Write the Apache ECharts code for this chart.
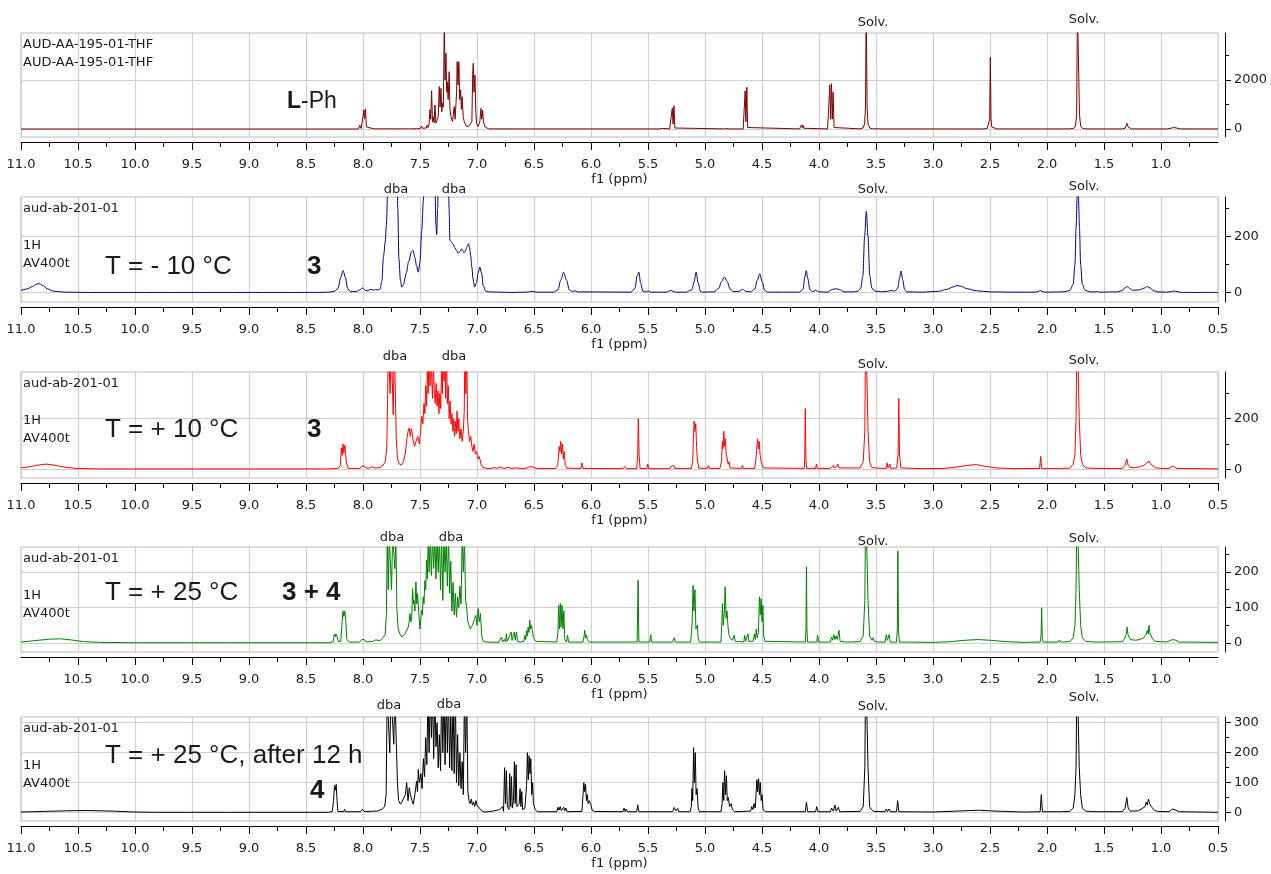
<!DOCTYPE html>
<html><head><meta charset="utf-8">
<script src="https://cdn.jsdelivr.net/npm/echarts@6/dist/echarts.min.js"></script>
<style>html,body{margin:0;padding:0;background:#fff}#c{width:1271px;height:874px}</style>
</head><body><div id="c"></div>
<script>
// ---------------- DATA ----------------
// x tick labels (ppm)
const xTicksFull = [11.0,10.5,10.0,9.5,9.0,8.5,8.0,7.5,7.0,6.5,6.0,5.5,5.0,4.5,4.0,3.5,3.0,2.5,2.0,1.5,1.0,0.5];
const xTicksNoRight = [11.0,10.5,10.0,9.5,9.0,8.5,8.0,7.5,7.0,6.5,6.0,5.5,5.0,4.5,4.0,3.5,3.0,2.5,2.0,1.5,1.0];
const xTicksInner = [10.5,10.0,9.5,9.0,8.5,8.0,7.5,7.0,6.5,6.0,5.5,5.0,4.5,4.0,3.5,3.0,2.5,2.0,1.5,1.0];

// y tick labels per panel
const yMajor1 = [0, 2000], yMinor1 = [1000, 3000];
const yMajor2 = [0, 200], yMinor2 = [100, 300];
const yMajor3 = [0, 200], yMinor3 = [100, 300];
const yMajor4 = [0, 100, 200], yMinor4 = [50, 150, 250];
const yMajor5 = [0, 100, 200, 300], yMinor5 = [50, 150, 250];
const yExtent = [[-327, 3918], [-33, 340], [-35, 385], [-25, 270], [-28, 319]];

// panel texts
const header1 = ['AUD-AA-195-01-THF', 'AUD-AA-195-01-THF'];
const headerN = ['aud-ab-201-01', '1H', 'AV400t'];
const tempLabels = ['', 'T = - 10 °C', 'T = + 10 °C', 'T = + 25 °C', 'T = + 25 °C, after 12 h'];
const compoundLabels = ['L-Ph', '3', '3', '3 + 4', '4'];
const notes = [
  [['Solv.', 3.526], ['Solv.', 1.675]],
  [['dba', 7.71], ['dba', 7.202], ['Solv.', 3.526], ['Solv.', 1.675]],
  [['dba', 7.719], ['dba', 7.202], ['Solv.', 3.526], ['Solv.', 1.675]],
  [['dba', 7.746], ['dba', 7.228], ['Solv.', 3.526], ['Solv.', 1.675]],
  [['dba', 7.772], ['dba', 7.246], ['Solv.', 3.526], ['Solv.', 1.675]]
];

// spectra: [ppm, intensity]
const specLPh = [[11.0,0],[8.06,0],[8.04,5],[8.033,20],[8.028,150],[8.022,110],[8.016,20],[8.0,40],[7.992,780],[7.986,420],[7.978,820],[7.97,80],[7.96,15],[7.9,5],[7.6,5],[7.52,10],[7.495,30],[7.486,120],[7.478,30],[7.445,40],[7.437,160],[7.43,60],[7.42,200],[7.413,780],[7.406,400],[7.398,1560],[7.391,300],[7.384,500],[7.376,250],[7.369,980],[7.36,250],[7.349,370],[7.34,500],[7.331,1730],[7.324,900],[7.316,1660],[7.309,700],[7.302,1050],[7.295,900],[7.287,4500],[7.28,2000],[7.272,3090],[7.266,1500],[7.261,1930],[7.253,1200],[7.244,2340],[7.237,800],[7.229,500],[7.215,300],[7.2,910],[7.192,400],[7.185,370],[7.179,1500],[7.174,2750],[7.166,1800],[7.159,2750],[7.152,1200],[7.144,1590],[7.137,800],[7.13,1320],[7.121,500],[7.112,300],[7.095,120],[7.077,95],[7.06,120],[7.045,300],[7.038,2200],[7.033,2680],[7.026,1500],[7.018,2200],[7.011,800],[7.004,230],[6.99,100],[6.975,300],[6.966,840],[6.958,400],[6.951,775],[6.943,300],[6.931,95],[6.92,20],[6.9,5],[6.5,3],[5.4,3],[5.375,25],[5.365,3],[5.31,3],[5.295,20],[5.287,850],[5.28,200],[5.272,950],[5.264,40],[5.25,5],[4.83,3],[4.815,60],[4.808,20],[4.8,70],[4.79,3],[4.665,3],[4.655,40],[4.648,1550],[4.641,300],[4.633,1700],[4.626,60],[4.615,3],[4.17,3],[4.158,40],[4.153,170],[4.147,60],[4.14,150],[4.133,30],[4.12,3],[3.925,3],[3.912,60],[3.905,1800],[3.898,400],[3.89,1850],[3.883,400],[3.876,1500],[3.868,60],[3.855,3],[3.64,5],[3.615,40],[3.6,200],[3.592,900],[3.586,5000],[3.578,900],[3.57,200],[3.555,40],[3.53,10],[3.45,3],[3.443,30],[3.436,3],[2.56,2],[2.525,20],[2.51,80],[2.503,400],[2.497,2930],[2.491,400],[2.484,80],[2.47,20],[2.44,3],[2.05,3],[2.043,30],[2.036,3],[1.865,3],[1.858,25],[1.85,3],[1.8,5],[1.765,30],[1.75,120],[1.74,600],[1.733,5000],[1.722,5000],[1.715,600],[1.705,120],[1.69,30],[1.66,5],[1.605,3],[1.598,30],[1.59,3],[1.34,3],[1.315,30],[1.305,90],[1.298,230],[1.29,90],[1.28,30],[1.26,3],[0.95,3],[0.91,35],[0.885,60],[0.86,35],[0.83,5],[0.5,2]];

const specM10 = [[11.0,8],[10.95,13],[10.9,22],[10.86,31],[10.84,32],[10.81,26],[10.77,14],[10.72,6],[10.62,2],[10.4,1],[8.4,1],[8.3,2],[8.25,5],[8.22,15],[8.195,55],[8.175,79],[8.155,55],[8.135,15],[8.11,4],[8.06,4],[8.03,10],[8.005,17],[7.98,8],[7.955,7],[7.93,12],[7.91,9],[7.89,11],[7.865,10],[7.85,13],[7.835,40],[7.82,130],[7.805,180],[7.795,240],[7.78,420],[7.765,600],[7.735,600],[7.705,600],[7.695,300],[7.685,120],[7.672,45],[7.66,20],[7.645,30],[7.62,70],[7.6,110],[7.575,145],[7.56,150],[7.545,125],[7.53,95],[7.515,73],[7.5,110],[7.485,220],[7.47,330],[7.455,600],[7.38,600],[7.37,400],[7.36,240],[7.354,206],[7.345,300],[7.335,600],[7.255,600],[7.245,300],[7.238,186],[7.225,180],[7.209,172],[7.195,160],[7.179,150],[7.165,140],[7.156,144],[7.145,148],[7.135,156],[7.125,150],[7.115,142],[7.1,150],[7.09,162],[7.074,174],[7.065,160],[7.056,133],[7.045,90],[7.035,50],[7.021,20],[7.005,35],[6.99,70],[6.975,91],[6.96,70],[6.945,25],[6.925,6],[6.9,3],[6.7,1],[6.56,2],[6.52,5],[6.48,2],[6.33,2],[6.29,10],[6.265,45],[6.24,73],[6.215,45],[6.19,10],[6.16,4],[6.14,7],[6.12,3],[5.65,2],[5.615,15],[5.595,60],[5.58,73],[5.565,35],[5.545,5],[5.515,3],[5.5,7],[5.48,2],[5.34,2],[5.3,8],[5.26,2],[5.16,2],[5.134,8],[5.115,10],[5.095,40],[5.078,73],[5.06,35],[5.04,5],[5.02,2],[4.92,3],[4.88,15],[4.855,40],[4.83,56],[4.805,40],[4.78,12],[4.75,4],[4.7,5],[4.67,12],[4.64,5],[4.6,3],[4.565,12],[4.54,45],[4.52,67],[4.5,40],[4.475,8],[4.45,2],[4.17,2],[4.14,12],[4.125,55],[4.112,79],[4.098,50],[4.08,10],[4.055,4],[4.03,9],[4.0,3],[3.93,2],[3.88,12],[3.85,14],[3.82,11],[3.78,3],[3.7,3],[3.66,5],[3.635,15],[3.615,60],[3.6,200],[3.585,289],[3.57,200],[3.555,60],[3.535,15],[3.51,6],[3.45,3],[3.4,5],[3.36,8],[3.335,5],[3.31,15],[3.295,50],[3.28,77],[3.265,45],[3.25,12],[3.23,3],[3.1,2],[2.95,5],[2.88,12],[2.82,21],[2.79,26],[2.75,22],[2.7,14],[2.62,7],[2.5,3],[2.3,2],[2.1,2],[2.075,5],[2.06,8],[2.045,5],[2.02,2],[1.85,3],[1.8,8],[1.77,30],[1.755,100],[1.745,230],[1.735,345],[1.725,345],[1.715,230],[1.705,100],[1.69,30],[1.665,8],[1.62,3],[1.57,3],[1.556,4],[1.54,2],[1.38,3],[1.34,8],[1.315,17],[1.295,22],[1.275,15],[1.25,9],[1.22,9],[1.18,11],[1.15,16],[1.12,22],[1.095,17],[1.07,8],[1.03,3],[0.95,2],[0.91,4],[0.885,6],[0.86,4],[0.82,1],[0.5,1]];

const specP10 = [[11.0,5],[10.92,10],[10.85,16],[10.78,20],[10.72,17],[10.63,9],[10.52,3],[10.3,1],[8.3,1],[8.22,3],[8.198,15],[8.19,85],[8.182,55],[8.175,100],[8.168,65],[8.16,95],[8.152,100],[8.145,25],[8.13,3],[8.03,3],[8.01,10],[8.0,16],[7.99,14],[7.975,5],[7.945,4],[7.925,10],[7.915,8],[7.905,6],[7.89,11],[7.875,5],[7.85,7],[7.825,15],[7.805,30],[7.792,80],[7.785,250],[7.778,500],[7.77,500],[7.762,300],[7.752,500],[7.745,500],[7.735,216],[7.725,500],[7.715,500],[7.708,120],[7.698,45],[7.685,22],[7.665,16],[7.645,30],[7.63,60],[7.615,120],[7.605,150],[7.595,163],[7.585,130],[7.575,160],[7.56,115],[7.548,90],[7.535,110],[7.52,130],[7.505,100],[7.495,150],[7.485,210],[7.475,180],[7.465,260],[7.457,220],[7.45,330],[7.442,250],[7.435,420],[7.428,300],[7.42,450],[7.412,330],[7.405,500],[7.397,360],[7.39,280],[7.382,420],[7.374,300],[7.366,260],[7.358,340],[7.35,250],[7.342,310],[7.334,220],[7.326,300],[7.318,240],[7.31,420],[7.303,300],[7.296,500],[7.289,350],[7.282,500],[7.275,280],[7.268,500],[7.26,260],[7.252,330],[7.244,200],[7.236,270],[7.228,180],[7.22,220],[7.212,150],[7.205,200],[7.197,130],[7.19,190],[7.182,140],[7.175,230],[7.167,150],[7.16,200],[7.15,120],[7.14,160],[7.13,110],[7.12,150],[7.112,230],[7.105,500],[7.098,300],[7.09,500],[7.083,200],[7.075,150],[7.065,110],[7.055,130],[7.045,90],[7.035,70],[7.025,100],[7.015,60],[7.003,70],[6.99,40],[6.98,50],[6.965,20],[6.95,8],[6.92,3],[6.87,3],[6.85,7],[6.83,3],[6.79,9],[6.77,3],[6.72,7],[6.7,3],[6.66,5],[6.6,2],[6.56,5],[6.54,9],[6.52,10],[6.5,6],[6.47,2],[6.31,3],[6.292,15],[6.285,50],[6.279,90],[6.272,70],[6.265,110],[6.258,60],[6.25,100],[6.243,40],[6.235,70],[6.226,15],[6.21,4],[6.09,3],[6.08,25],[6.07,3],[5.72,2],[5.705,10],[5.69,2],[5.6,2],[5.59,60],[5.585,200],[5.578,60],[5.57,3],[5.51,2],[5.502,20],[5.494,2],[5.31,2],[5.3,10],[5.285,3],[5.275,15],[5.265,3],[5.12,3],[5.108,30],[5.102,120],[5.095,190],[5.088,150],[5.081,180],[5.074,90],[5.067,40],[5.055,4],[4.98,3],[4.97,15],[4.96,3],[4.87,3],[4.855,30],[4.848,110],[4.842,80],[4.835,150],[4.828,90],[4.821,120],[4.814,60],[4.805,40],[4.797,20],[4.79,30],[4.78,5],[4.68,3],[4.672,15],[4.664,3],[4.63,3],[4.62,10],[4.61,3],[4.565,3],[4.553,40],[4.545,90],[4.538,120],[4.531,80],[4.524,110],[4.517,60],[4.508,30],[4.5,35],[4.49,5],[4.13,3],[4.125,40],[4.12,240],[4.115,40],[4.108,3],[4.03,3],[4.022,20],[4.014,3],[3.92,3],[3.91,8],[3.9,3],[3.875,15],[3.865,5],[3.845,10],[3.835,20],[3.825,5],[3.64,5],[3.612,30],[3.598,150],[3.59,600],[3.578,600],[3.57,150],[3.556,30],[3.54,8],[3.525,10],[3.515,5],[3.41,3],[3.402,25],[3.394,5],[3.378,20],[3.37,3],[3.318,5],[3.306,60],[3.3,280],[3.294,60],[3.282,5],[3.1,2],[2.9,3],[2.8,8],[2.7,15],[2.62,18],[2.55,12],[2.45,5],[2.3,2],[2.065,3],[2.055,50],[2.047,3],[1.9,3],[1.89,8],[1.88,3],[1.8,4],[1.77,20],[1.755,60],[1.745,200],[1.737,600],[1.725,600],[1.717,200],[1.705,60],[1.69,20],[1.66,5],[1.57,3],[1.56,6],[1.55,3],[1.34,3],[1.315,15],[1.3,40],[1.288,15],[1.27,6],[1.22,7],[1.18,10],[1.15,15],[1.13,22],[1.115,25],[1.105,32],[1.095,22],[1.08,15],[1.05,6],[1.0,3],[0.93,3],[0.9,12],[0.88,8],[0.86,3],[0.5,1]];

const specP25 = [[11.0,3],[10.88,7],[10.75,11],[10.66,12],[10.56,9],[10.45,4],[10.3,2],[10.0,1],[9.16,1],[9.152,5],[9.145,1],[8.3,1],[8.262,4],[8.252,24],[8.245,18],[8.238,26],[8.23,20],[8.222,24],[8.214,4],[8.195,5],[8.183,60],[8.175,90],[8.168,75],[8.16,90],[8.152,70],[8.142,10],[8.12,3],[8.03,3],[8.01,10],[8.0,15],[7.99,10],[7.975,4],[7.94,4],[7.925,9],[7.915,5],[7.905,6],[7.89,9],[7.875,4],[7.85,7],[7.825,15],[7.805,25],[7.795,80],[7.787,300],[7.778,150],[7.77,300],[7.758,300],[7.75,150],[7.74,300],[7.728,300],[7.72,209],[7.712,300],[7.703,100],[7.692,40],[7.675,25],[7.66,17],[7.647,17],[7.632,26],[7.617,26],[7.603,45],[7.595,60],[7.588,83],[7.58,60],[7.573,69],[7.565,153],[7.558,110],[7.553,120],[7.545,90],[7.536,172],[7.528,110],[7.521,139],[7.51,80],[7.5,40],[7.486,92],[7.479,80],[7.472,130],[7.465,110],[7.457,176],[7.45,150],[7.442,233],[7.435,180],[7.428,300],[7.42,200],[7.41,300],[7.4,190],[7.39,300],[7.38,210],[7.37,300],[7.36,180],[7.35,300],[7.34,200],[7.33,300],[7.32,150],[7.31,300],[7.3,120],[7.29,300],[7.28,200],[7.27,300],[7.26,160],[7.25,300],[7.24,140],[7.23,230],[7.22,90],[7.21,170],[7.2,80],[7.19,140],[7.18,73],[7.17,130],[7.16,100],[7.15,160],[7.14,110],[7.13,300],[7.12,200],[7.11,300],[7.1,120],[7.09,97],[7.08,60],[7.07,50],[7.06,40],[7.05,36],[7.04,50],[7.03,45],[7.02,70],[7.01,78],[7.0,50],[6.99,97],[6.98,60],[6.97,83],[6.958,20],[6.945,5],[6.92,3],[6.81,2],[6.785,17],[6.775,3],[6.76,10],[6.75,3],[6.742,26],[6.735,5],[6.72,8],[6.7,31],[6.693,8],[6.683,20],[6.672,31],[6.665,8],[6.653,31],[6.645,5],[6.62,3],[6.59,5],[6.58,22],[6.572,10],[6.565,35],[6.558,20],[6.551,45],[6.544,30],[6.537,64],[6.53,40],[6.522,50],[6.512,45],[6.505,15],[6.49,20],[6.482,5],[6.3,3],[6.29,30],[6.283,106],[6.276,40],[6.269,111],[6.262,45],[6.254,106],[6.246,40],[6.238,90],[6.23,10],[6.215,3],[6.205,22],[6.197,3],[6.07,3],[6.06,20],[6.055,36],[6.048,15],[6.04,22],[6.032,10],[6.025,15],[6.015,3],[5.72,3],[5.705,8],[5.695,3],[5.685,8],[5.675,3],[5.595,3],[5.587,176],[5.58,3],[5.485,3],[5.476,24],[5.468,3],[5.285,3],[5.27,15],[5.26,3],[5.125,3],[5.112,60],[5.105,162],[5.097,90],[5.088,150],[5.08,40],[5.068,50],[5.06,15],[5.05,3],[4.86,3],[4.852,60],[4.847,111],[4.84,50],[4.83,90],[4.823,158],[4.815,70],[4.807,90],[4.798,45],[4.79,25],[4.78,15],[4.77,17],[4.76,8],[4.745,22],[4.735,5],[4.66,3],[4.652,22],[4.645,5],[4.63,10],[4.623,26],[4.615,5],[4.58,5],[4.565,26],[4.558,10],[4.55,40],[4.542,15],[4.532,30],[4.522,130],[4.515,80],[4.508,125],[4.5,60],[4.492,106],[4.485,20],[4.475,5],[4.12,3],[4.114,40],[4.11,214],[4.106,40],[4.1,3],[4.02,3],[4.012,22],[4.004,3],[3.9,3],[3.89,17],[3.88,8],[3.87,24],[3.86,10],[3.85,20],[3.84,10],[3.825,36],[3.815,5],[3.77,3],[3.76,6],[3.75,3],[3.64,4],[3.612,20],[3.598,120],[3.59,400],[3.578,400],[3.57,120],[3.556,20],[3.545,15],[3.535,8],[3.525,15],[3.515,6],[3.505,10],[3.49,3],[3.42,3],[3.41,24],[3.4,8],[3.385,24],[3.375,3],[3.32,3],[3.313,40],[3.308,259],[3.303,40],[3.295,3],[3.0,2],[2.85,4],[2.72,8],[2.6,10],[2.5,8],[2.35,4],[2.2,2],[2.06,3],[2.052,20],[2.047,99],[2.042,20],[2.035,3],[1.9,3],[1.89,9],[1.88,3],[1.8,4],[1.77,15],[1.755,50],[1.745,150],[1.737,400],[1.725,400],[1.717,150],[1.705,50],[1.69,15],[1.66,5],[1.57,3],[1.56,5],[1.55,3],[1.34,4],[1.32,12],[1.305,25],[1.297,45],[1.29,25],[1.27,10],[1.22,8],[1.18,11],[1.15,15],[1.13,25],[1.12,36],[1.112,25],[1.105,50],[1.098,30],[1.09,26],[1.075,12],[1.05,5],[0.95,3],[0.9,10],[0.885,12],[0.87,8],[0.84,3],[0.5,2]];

const spec12h = [[11.0,2],[10.8,4],[10.6,6],[10.42,7],[10.2,5],[10.0,2],[9.8,1],[9.16,1],[9.152,4],[9.145,1],[8.3,1],[8.27,4],[8.258,40],[8.25,90],[8.243,75],[8.235,94],[8.228,40],[8.22,4],[8.17,3],[8.162,11],[8.155,3],[8.02,3],[8.005,11],[7.99,4],[7.93,4],[7.92,9],[7.91,5],[7.895,9],[7.88,5],[7.86,7],[7.83,12],[7.81,20],[7.797,60],[7.788,400],[7.775,400],[7.765,200],[7.755,400],[7.742,400],[7.73,228],[7.72,400],[7.708,400],[7.698,100],[7.688,40],[7.672,28],[7.66,35],[7.645,30],[7.628,60],[7.617,100],[7.605,40],[7.594,83],[7.585,61],[7.57,40],[7.559,28],[7.545,60],[7.53,105],[7.522,70],[7.515,144],[7.505,100],[7.492,130],[7.482,80],[7.47,180],[7.46,120],[7.45,250],[7.44,160],[7.43,400],[7.42,200],[7.41,400],[7.4,250],[7.39,400],[7.38,180],[7.37,400],[7.36,220],[7.35,300],[7.34,150],[7.33,260],[7.32,140],[7.31,400],[7.3,200],[7.29,400],[7.28,160],[7.27,400],[7.26,200],[7.25,400],[7.24,150],[7.23,330],[7.22,140],[7.21,400],[7.2,130],[7.19,400],[7.18,100],[7.17,260],[7.16,90],[7.15,200],[7.14,80],[7.13,170],[7.12,60],[7.11,400],[7.1,200],[7.09,400],[7.08,70],[7.07,40],[7.06,30],[7.05,45],[7.04,25],[7.03,35],[7.02,20],[7.01,40],[7.0,25],[6.99,30],[6.98,15],[6.97,20],[6.955,5],[6.93,2],[6.9,3],[6.85,6],[6.8,10],[6.79,4],[6.775,20],[6.767,4],[6.758,150],[6.75,30],[6.742,140],[6.734,20],[6.72,10],[6.713,130],[6.705,20],[6.698,120],[6.69,15],[6.68,40],[6.672,170],[6.665,30],[6.657,160],[6.65,20],[6.63,30],[6.622,80],[6.615,20],[6.607,70],[6.6,10],[6.58,15],[6.565,90],[6.558,200],[6.55,110],[6.543,190],[6.535,130],[6.528,180],[6.52,60],[6.512,100],[6.505,30],[6.49,10],[6.47,3],[6.3,3],[6.29,18],[6.28,8],[6.27,20],[6.26,6],[6.24,18],[6.23,6],[6.22,15],[6.21,3],[6.08,4],[6.07,60],[6.063,100],[6.055,70],[6.048,95],[6.04,40],[6.032,60],[6.025,30],[6.015,40],[6.0,25],[5.99,8],[5.97,4],[5.72,3],[5.71,15],[5.7,3],[5.69,12],[5.68,3],[5.6,3],[5.59,26],[5.58,3],[5.285,3],[5.27,17],[5.255,6],[5.24,14],[5.23,3],[5.13,3],[5.12,20],[5.115,80],[5.108,40],[5.1,217],[5.093,100],[5.085,200],[5.078,60],[5.07,80],[5.06,15],[5.05,3],[4.86,3],[4.85,30],[4.843,100],[4.835,40],[4.828,140],[4.82,60],[4.812,123],[4.805,40],[4.795,50],[4.785,20],[4.77,30],[4.76,10],[4.74,3],[4.6,5],[4.59,20],[4.58,10],[4.57,30],[4.56,15],[4.552,60],[4.545,110],[4.538,70],[4.53,113],[4.522,60],[4.515,100],[4.507,40],[4.5,60],[4.49,10],[4.47,3],[4.12,3],[4.11,35],[4.1,3],[4.03,3],[4.02,20],[4.01,3],[3.9,3],[3.89,15],[3.875,5],[3.86,25],[3.85,5],[3.83,18],[3.82,3],[3.64,4],[3.612,20],[3.598,150],[3.59,500],[3.578,500],[3.57,150],[3.556,20],[3.54,10],[3.52,4],[3.42,3],[3.41,12],[3.4,3],[3.385,12],[3.375,3],[3.32,3],[3.31,40],[3.3,3],[3.0,2],[2.8,5],[2.6,8],[2.45,5],[2.2,2],[2.06,3],[2.05,60],[2.04,3],[1.9,3],[1.89,8],[1.88,3],[1.8,4],[1.77,15],[1.755,60],[1.745,150],[1.737,500],[1.725,500],[1.717,150],[1.705,60],[1.69,15],[1.66,5],[1.57,3],[1.56,4],[1.55,3],[1.34,3],[1.315,15],[1.3,50],[1.288,15],[1.27,5],[1.2,6],[1.16,15],[1.14,20],[1.13,35],[1.12,25],[1.11,45],[1.1,30],[1.085,20],[1.06,8],[1.03,4],[0.93,3],[0.9,12],[0.885,15],[0.87,8],[0.84,3],[0.5,1]];

// ---------------- LAYOUT / STYLE ----------------
const specs = [specLPh, specM10, specP10, specP25, spec12h];
const colors = ['#7f0000', '#000080', '#ff0000', '#008000', '#000000'];
const gridTops = [33, 197, 372, 547, 717];
const gridHeights = [104, 105, 106, 105, 104];
const xTickSets = [xTicksNoRight, xTicksFull, xTicksFull, xTicksInner, xTicksFull];
const yMajors = [yMajor1, yMajor2, yMajor3, yMajor4, yMajor5];
const yMinors = [yMinor1, yMinor2, yMinor3, yMinor4, yMinor5];
const noteDy = [[-10, -13], [-7, -7, -7, -10], [-15, -15, -7, -11], [-9, -9, -5, -8], [-11, -12, -10, -19]];
const SMALL = 'DejaVu Sans';
const BIG = 'Liberation Sans';
const TXT = '#1a1a1a';
const GRIDC = '#cfcfcf';

const grids = [], xAxes = [], yAxes = [], series = [];
for (let i = 0; i < 5; i++) {
  grids.push({ left: 21, right: 53, top: gridTops[i], height: gridHeights[i], show: true,
    borderColor: '#d2d2d2', borderWidth: 1.5, containLabel: false, outerBoundsMode: 'none' });
  xAxes.push({ type: 'value', gridIndex: i, inverse: true, min: 0.5, max: 11, interval: 0.5,
    offset: 5, position: 'bottom',
    name: 'f1 (ppm)', nameLocation: 'middle', nameGap: 31,
    nameTextStyle: { fontFamily: SMALL, fontSize: 13, color: TXT },
    axisLine: { show: true, onZero: false, lineStyle: { color: '#000', width: 1 } },
    axisTick: { show: true, length: 8, customValues: xTickSets[i], lineStyle: { color: '#000' } },
    minorTick: { show: true, splitNumber: 2, length: 5, lineStyle: { color: '#000' } },
    axisLabel: { show: true, margin: 16, customValues: xTickSets[i], fontFamily: SMALL, fontSize: 13, color: TXT,
      formatter: v => Number(v).toFixed(1) },
    splitLine: { show: true, lineStyle: { color: GRIDC, width: 1.2 } },
    minorSplitLine: { show: false } });
  yAxes.push({ type: 'value', gridIndex: i, position: 'right', offset: 7,
    min: yExtent[i][0], max: yExtent[i][1],
    axisLine: { show: true, onZero: false, lineStyle: { color: '#000', width: 1 } },
    axisTick: { show: true, length: 6, customValues: yMajors[i], lineStyle: { color: '#000' } },
    axisLabel: { show: true, margin: 9, customValues: yMajors[i], fontFamily: SMALL, fontSize: 13, color: TXT,
      formatter: v => String(Math.round(v)) },
    splitLine: { show: true, lineStyle: { color: GRIDC, width: 1.2 } } });
  yAxes.push({ type: 'value', gridIndex: i, position: 'right', offset: 7,
    min: yExtent[i][0], max: yExtent[i][1],
    axisLine: { show: false, onZero: false },
    axisTick: { show: true, length: 4, customValues: yMinors[i], lineStyle: { color: '#000' } },
    axisLabel: { show: false, customValues: yMinors[i] },
    splitLine: { show: false } });
  series.push({ type: 'line', xAxisIndex: i, yAxisIndex: 2 * i, data: specs[i],
    showSymbol: false, symbol: 'none', clip: true, silent: true,
    smooth: i === 1 ? 0.3 : false, smoothMonotone: 'x',
    lineStyle: { width: 1, color: colors[i] }, itemStyle: { color: colors[i] }, z: 3 });
}

const chart = echarts.init(document.getElementById('c'), null, { renderer: 'canvas' });
chart.setOption({ animation: false, backgroundColor: '#fff', grid: grids, xAxis: xAxes, yAxis: yAxes, series: series });

// ---------------- TEXTS ----------------
const g = [];
function txt(x, y, text, size, family, weight, align, extra) {
  g.push(Object.assign({ type: 'text', x: x, y: y, z: 100, silent: true,
    style: { text: text, fill: TXT, fontSize: size, fontFamily: family, fontWeight: weight || 'normal',
      align: align || 'left', verticalAlign: 'middle' } }, extra || {}));
}
for (let i = 0; i < 5; i++) {
  const top = gridTops[i];
  if (i === 0) {
    txt(23, top + 11.5, header1[0], 13, SMALL);
    txt(23, top + 29.5, header1[1], 13, SMALL);
  } else {
    txt(23, top + 11.5, headerN[0], 13, SMALL);
    txt(23, top + 48.5, headerN[1], 13, SMALL);
    txt(23, top + 67, headerN[2], 13, SMALL);
  }
  notes[i].forEach((n, k) => {
    const px = chart.convertToPixel({ xAxisIndex: i }, n[1]);
    txt(px, top + noteDy[i][k], n[0], 13, SMALL, 'normal', 'center');
  });
}
// big labels
g.push({ type: 'text', x: 287, y: 101.7, z: 100, silent: true,
  style: { text: '{b|L}{n|-Ph}', verticalAlign: 'middle', align: 'left',
    rich: { b: { fontSize: 23, fontFamily: BIG, fontWeight: 'bold', fill: TXT },
            n: { fontSize: 23, fontFamily: BIG, fill: TXT } } } });
const tempY = [0, 266.7, 430, 593, 755.7];
const compX = [0, 307, 307, 282, 310];
const compY = [0, 266.7, 430, 593, 790.7];
for (let i = 1; i < 5; i++) {
  txt(105, tempY[i], tempLabels[i], 26, BIG);
  txt(compX[i], compY[i], compoundLabels[i], 26, BIG, 'bold');
}
chart.setOption({ graphic: { elements: g } });
</script>
</body></html>
